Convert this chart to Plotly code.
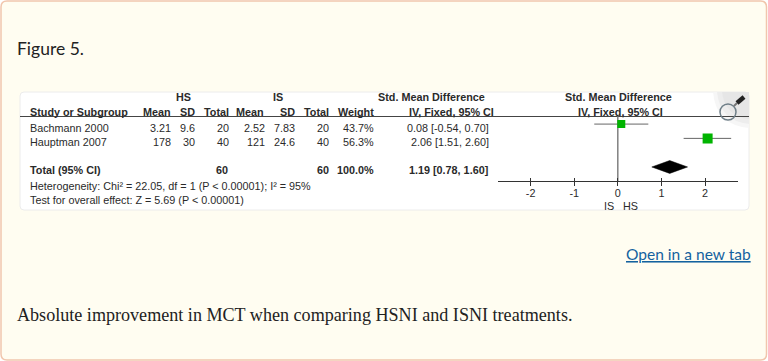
import plotly.graph_objects as go

W, H = 768, 361

# ---- data ----
studies = ["Bachmann 2000", "Hauptman 2007"]
hs_mean = ["3.21", "178"]
hs_sd = ["9.6", "30"]
hs_total = ["20", "40"]
is_mean = ["2.52", "121"]
is_sd = ["7.83", "24.6"]
is_total = ["20", "40"]
weights = ["43.7%", "56.3%"]
ci_text = ["0.08 [-0.54, 0.70]", "2.06 [1.51, 2.60]"]
smd = [0.08, 2.06]
ci_low = [-0.54, 1.51]
ci_high = [0.70, 2.60]
marker_sizes = [8, 10]
total_smd, total_low, total_high = 1.19, 0.78, 1.60
total_row = ["60", "60", "100.0%", "1.19 [0.78, 1.60]"]
tick_vals = [-2, -1, 0, 1, 2]
tick_text = ["-2", "-1", "0", "1", "2"]
rows = [0, 1]
total_pos = 3

CARD = "#fffdf1"
SANS = "Liberation Sans"
TXT = "#2a2a2a"


def fx(p):
    return p / W


def fy(p):
    return 1 - p / H


def rrect(x0, y0, x1, y1, r):
    a, b, c, d = fx(x0), fy(y0), fx(x1), fy(y1)
    rx, ry = r / W, r / H
    return (f"M{a+rx},{b} L{c-rx},{b} Q{c},{b} {c},{b-ry} L{c},{d+ry} Q{c},{d} {c-rx},{d} "
            f"L{a+rx},{d} Q{a},{d} {a},{d+ry} L{a},{b-ry} Q{a},{b} {a+rx},{b} Z")


def corner(x_left, y_bottom, color):
    return dict(type="path", xref="paper", yref="paper", layer="below",
                path=f"M{fx(x_left)},{fy(92)} L{fx(749)},{fy(92)} L{fx(749)},{fy(y_bottom)} "
                     f"Q{fx(x_left + 3)},{fy(y_bottom - 3)} {fx(x_left)},{fy(92)} Z",
                fillcolor=color, line=dict(width=0))


shapes = [
    dict(type="path", xref="paper", yref="paper", path=rrect(1, 1, 766.5, 360, 6),
         fillcolor=CARD, line=dict(color="#f1c6ad", width=1.5), layer="below"),
    dict(type="path", xref="paper", yref="paper", path=rrect(20, 92, 749, 210, 4),
         fillcolor="#ffffff", line=dict(color="#ececec", width=1), layer="below"),
    corner(713, 128, "#f6f6f6"),
    corner(717, 124, "#ededed"),
    corner(722, 119, "#e6e6e6"),
    dict(type="line", xref="paper", yref="paper", x0=fx(20), x1=fx(749), y0=fy(116.5), y1=fy(116.5),
         line=dict(color="#444444", width=1), layer="below"),
    dict(type="circle", xref="paper", yref="paper", x0=fx(720), x1=fx(736), y0=fy(104), y1=fy(120),
         line=dict(color="#6f7f88", width=1.5), layer="below"),
    dict(type="line", xref="paper", yref="paper", x0=fx(734), x1=fx(737), y0=fy(106), y1=fy(103),
         line=dict(color="#777777", width=2), layer="below"),
    dict(type="line", xref="paper", yref="paper", x0=fx(737), x1=fx(744), y0=fy(103), y1=fy(97),
         line=dict(color="#222222", width=4.5), layer="below"),
]

annotations = []


def label(text, x, y, anchor="right", size=10.8, bold=False, color=TXT, family=SANS):
    annotations.append(dict(
        text=f"<b>{text}</b>" if bold else text, x=fx(x), y=fy(y), xref="paper", yref="paper",
        xanchor=anchor, yanchor="middle", showarrow=False, align=anchor,
        font=dict(family=family, size=size, color=color), borderpad=0, borderwidth=0))


# page text
label("Figure 5.", 17, 48, "left", 17.5, color="#222222", family="Lato")
label("<u>Open in a new tab</u>", 751, 254, "right", 15.55, color="#14629f", family="Lato")
label("Absolute improvement in MCT when comparing HSNI and ISNI treatments.", 17, 315, "left", 18.1,
      color="#222222", family="Liberation Serif")

# table headers
label("HS", 183, 97, "center", bold=True)
label("IS", 278, 97, "center", bold=True)
label("Std. Mean Difference", 485, 97, "right", bold=True)
label("Std. Mean Difference", 618, 97, "center", bold=True)
label("Study or Subgroup", 30, 112, "left", bold=True)
header_cols = [("Mean", 171), ("SD", 195), ("Total", 229), ("Mean", 264), ("SD", 295), ("Total", 329), ("Weight", 374)]
for name, right in header_cols:
    label(name, right, 112, bold=True)
label("IV, Fixed, 95% CI", 494, 112, bold=True)
label("IV, Fixed, 95% CI", 620, 112, "center", bold=True)

# table rows
row_y = [128, 142]
cols = [(hs_mean, 171), (hs_sd, 195), (hs_total, 229), (is_mean, 265), (is_sd, 295), (is_total, 329), (weights, 374), (ci_text, 489)]
for i, study in enumerate(studies):
    label(study, 30, row_y[i], "left")
    for values, right in cols:
        label(values[i], right, row_y[i])

label("Total (95% CI)", 30, 169.5, "left", bold=True)
for text, right in zip(total_row, [228, 329, 374, 488]):
    label(text, right, 169.5, bold=True)
label("Heterogeneity: Chi² = 22.05, df = 1 (P &lt; 0.00001); I² = 95%", 30, 186, "left")
label("Test for overall effect: Z = 5.69 (P &lt; 0.00001)", 30, 200, "left")
label("IS", 608.5, 205.5, "center")
label("HS", 630, 205.5, "center")

fig = go.Figure()
# null line
fig.add_trace(go.Scatter(x=[0, 0], y=[-0.56, 3.98], mode="lines", line=dict(color="#808080", width=1.5),
                         hoverinfo="skip", showlegend=False))
# study CIs and squares
fig.add_trace(go.Scatter(
    x=smd, y=rows, mode="markers", showlegend=False,
    marker=dict(symbol="square", color="#00b400", size=marker_sizes, opacity=1, line=dict(width=0)),
    error_x=dict(type="data", symmetric=False,
                 array=[h - m for h, m in zip(ci_high, smd)],
                 arrayminus=[m - l for l, m in zip(ci_low, smd)],
                 color="#666666", thickness=1, width=0)))
# pooled diamond
fig.add_trace(go.Scatter(
    x=[total_low, total_smd, total_high, total_smd, total_low],
    y=[total_pos, total_pos - 0.45, total_pos, total_pos + 0.45, total_pos],
    mode="lines", fill="toself", fillcolor="#000000", line=dict(color="#000000", width=0.5),
    showlegend=False))
# invisible trace so the inward half of each tick can be drawn
fig.add_trace(go.Scatter(x=[0], y=[0], xaxis="x2", mode="markers", marker=dict(opacity=0),
                         hoverinfo="skip", showlegend=False))

x_range = [(498 - 617.8) / 43.6, (738 - 617.8) / 43.6]
fig.update_layout(
    width=W, height=H, margin=dict(l=0, r=0, t=0, b=0), autosize=False,
    paper_bgcolor="#ffffff", plot_bgcolor="rgba(0,0,0,0)",
    shapes=shapes, annotations=annotations, showlegend=False,
    xaxis=dict(domain=[fx(498), fx(738)], range=x_range, anchor="y", showgrid=False, zeroline=False,
               showline=True, linecolor="#333333", linewidth=1, tickmode="array",
               tickvals=tick_vals, ticktext=tick_text, ticks="outside", ticklen=4, tickcolor="#333333",
               tickwidth=1, ticklabelstandoff=-2, tickfont=dict(family=SANS, size=10.8, color=TXT)),
    xaxis2=dict(domain=[fx(498), fx(738)], range=x_range, anchor="y", overlaying="x", side="bottom",
                showgrid=False, zeroline=False, showline=False, tickmode="array", tickvals=tick_vals,
                ticktext=["" for _ in tick_vals], ticks="inside", ticklen=3, tickcolor="#333333", tickwidth=1),
    yaxis=dict(domain=[fy(181), fy(116.5)], range=[3.98, -0.53], showgrid=False, zeroline=False,
               showline=False, showticklabels=False, ticks=""),
)

fig.write_html("out.html", config=dict(displayModeBar=False),
               post_script="document.body.style.margin='0';")
